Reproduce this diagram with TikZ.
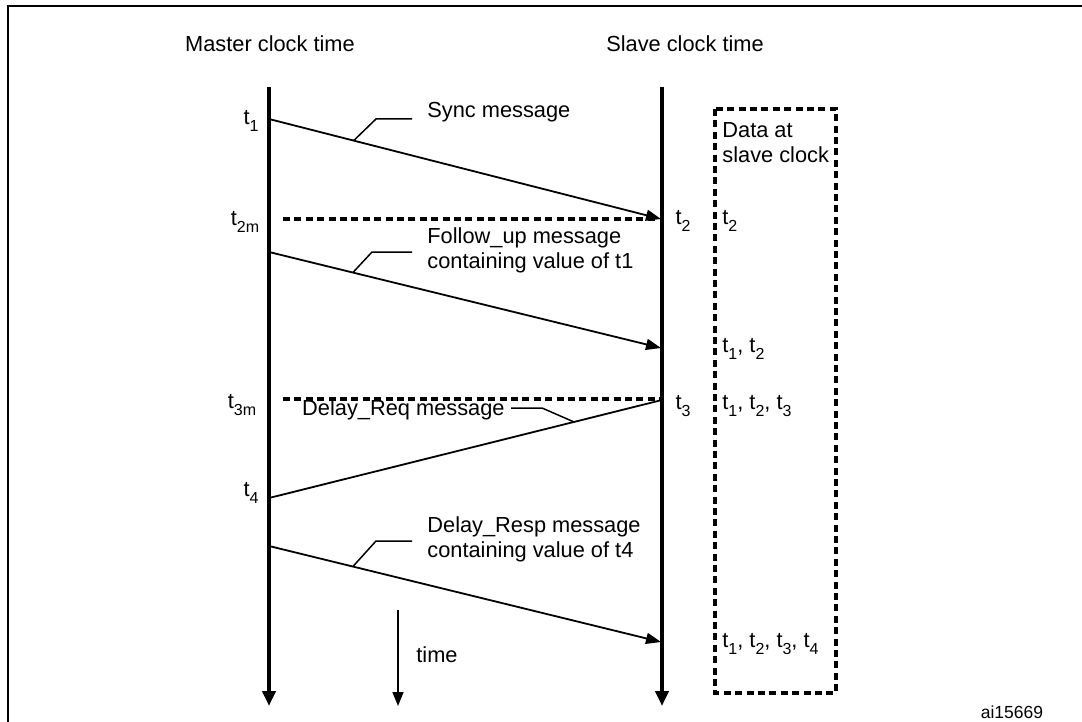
\documentclass[tikz,border=0pt]{standalone}
\usepackage{fontspec}
\setmainfont{Liberation Sans}
\usetikzlibrary{arrows.meta,positioning,calc}
\newcommand{\tsub}[1]{\raisebox{-0.55ex}{\fontsize{8}{9}\selectfont #1}}

\begin{document}
\begin{tikzpicture}[
  x=0.5pt, y=-0.5pt,
  lbl/.style={font=\fontsize{10.9}{12.6}\selectfont, inner sep=0pt, align=left},
  lifeline/.style={line width=2pt, -{Triangle[length=7.5pt,width=6.5pt]}},
  msg/.style={line width=0.9pt, -{Triangle[length=7.5pt,width=5.5pt]}},
  leader/.style={line width=0.75pt},
  marker/.style={line width=2pt, dash pattern=on 3.5pt off 2.2pt},
  arrow/.style={line width=0.75pt, -{Triangle[length=7pt,width=5.5pt]}}
]
  \useasboundingbox (0,0) rectangle (1082,722);
  % frame
  \draw[line width=1pt] (8,722) -- (8,6) -- (1082,6);

  % clocks
  \node[lbl] (master) at (270,44) {Master clock time};
  \node[lbl] (slave) at (685,44) {Slave clock time};
  \coordinate (mtop) at (269,87);
  \coordinate (mbot) at (269,706);
  \coordinate (stop) at (662,87);
  \coordinate (sbot) at (662,706);
  \draw[lifeline] (mtop) -- (mbot);
  \draw[lifeline] (stop) -- (sbot);

  % time arrow
  \coordinate (ttop) at (398,610);
  \coordinate (tbot) at (398,706);
  \draw[arrow] (ttop) -- (tbot);
  \node[lbl, anchor=west] (time) at (416,655) {time};

  % data box
  \coordinate (boxnw) at (715,109);
  \coordinate (boxse) at (836,693);
  \draw[marker] (boxnw) rectangle (boxse);
  \node[lbl, anchor=west] (data) at (722,143) {Data at\\slave clock};

  % sync
  \coordinate (m1) at (269,119);
  \coordinate (s2) at (661,219);
  \draw[msg] (m1) -- coordinate[pos=0.216] (syncpt) (s2);
  \draw[leader] (syncpt) -- (376,119) -- (412,119);
  \node[lbl, anchor=west] (sync) at (427,112) {Sync message};
  \coordinate (d2a) at (283,219);
  \coordinate (d2b) at (656,219);
  \draw[marker] (d2a) -- (d2b);

  % follow up
  \coordinate (m2) at (269,252);
  \coordinate (s2b) at (661,348);
  \draw[msg] (m2) -- coordinate[pos=0.214] (followpt) (s2b);
  \draw[leader] (followpt) -- (372,252) -- (412,252);
  \node[lbl, anchor=west] (follow) at (427,250) {Follow\_up message\\containing value of t1};

  % delay req
  \coordinate (d3a) at (283,399);
  \coordinate (d3b) at (660,399);
  \draw[marker] (d3a) -- (d3b);
  \coordinate (s3) at (662,400);
  \coordinate (m4) at (269,498);
  \draw[line width=0.9pt] (s3) -- coordinate[pos=0.224] (reqpt) (m4);
  \draw[leader] (reqpt) -- (542,408) -- (511,408);
  \node[lbl, anchor=east] (req) at (505,410) {Delay\_Req message};

  % delay resp
  \coordinate (m5) at (269,546);
  \coordinate (s5) at (661,642);
  \draw[msg] (m5) -- coordinate[pos=0.214] (resppt) (s5);
  \draw[leader] (resppt) -- (376,541) -- (412,541);
  \node[lbl, anchor=west] (resp) at (427,539) {Delay\_Resp message\\containing value of t4};

  % master times
  \node[lbl] (t1) at (251,121) {t\tsub{1}};
  \node[lbl] (t2m) at (245,222) {t\tsub{2m}};
  \node[lbl] (t3m) at (242,405) {t\tsub{3m}};
  \node[lbl] (t4) at (251,493) {t\tsub{4}};

  % slave times
  \node[lbl] (t2) at (683,221) {t\tsub{2}};
  \node[lbl] (t3) at (683,406) {t\tsub{3}};
  \node[lbl, anchor=west] (v1) at (722,221) {t\tsub{2}};
  \node[lbl, anchor=west] (v2) at (722,349) {t\tsub{1}, t\tsub{2}};
  \node[lbl, anchor=west] (v3) at (722,406) {t\tsub{1}, t\tsub{2}, t\tsub{3}};
  \node[lbl, anchor=west] (v4) at (722,644) {t\tsub{1}, t\tsub{2}, t\tsub{3}, t\tsub{4}};

  \node[lbl, font=\fontsize{8.75}{10}\selectfont] (ref) at (1012,712) {ai15669};
\end{tikzpicture}
\end{document}
